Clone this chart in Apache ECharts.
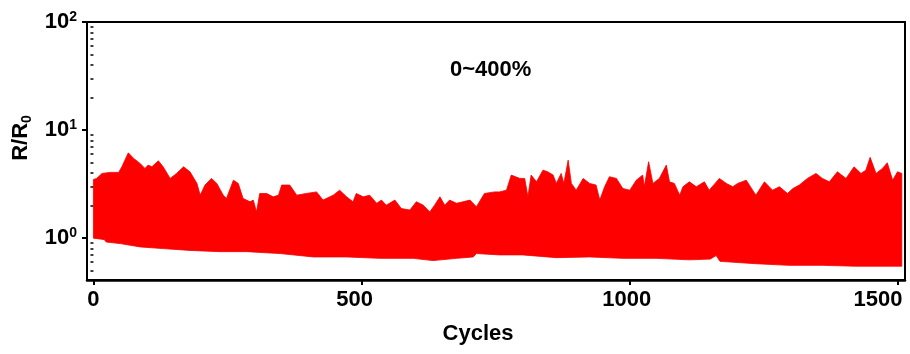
<!DOCTYPE html>
<html>
<head>
<meta charset="utf-8">
<script src="https://cdn.jsdelivr.net/npm/echarts@6/dist/echarts.min.js"></script>
<style>
  html, body { margin: 0; padding: 0; background: #fff; }
  #chart { width: 910px; height: 354px; }
</style>
</head>
<body>
<div id="chart"></div>
<script>
// Upper envelope of R/R0 (peak values)
const upperCycles = [0, 6, 16, 31, 47, 53, 65, 75, 87, 96, 102, 109, 121, 130, 143, 155, 168, 180, 193, 199,
  208, 220, 230, 242, 248, 261, 270, 279, 292, 298, 304, 310, 323, 335, 345, 351, 366, 379, 397, 416,
  428, 447, 459, 472, 484, 490, 503, 515, 528, 537, 546, 562, 574, 590, 602, 615, 627, 636, 646, 655,
  664, 677, 689, 702, 714, 729, 748, 757, 770, 779, 795, 804, 810, 816, 826, 838, 847, 857, 863, 872,
  877, 885, 891, 900, 913, 925, 937, 944, 953, 962, 975, 987, 1000, 1012, 1024, 1027, 1035, 1043, 1055, 1068,
  1074, 1083, 1093, 1099, 1111, 1124, 1139, 1148, 1167, 1180, 1192, 1201, 1217, 1229, 1235, 1251, 1266, 1279, 1294, 1304,
  1316, 1331, 1347, 1359, 1372, 1387, 1403, 1418, 1431, 1440, 1448, 1459, 1471, 1480, 1490, 1499, 1507];
const upperValues = [3.49, 3.57, 3.97, 4.06, 4.06, 4.57, 6.16, 5.47, 4.91, 4.42, 4.74, 4.57, 5.2, 4.57, 3.57, 3.97, 4.57, 4.11, 3.21, 2.50,
  3.10, 3.57, 3.21, 2.50, 2.33, 3.44, 3.21, 2.33, 2.17, 2.25, 1.75, 2.59, 2.59, 2.41, 2.50, 3.10, 3.10, 2.50, 2.59, 2.68,
  2.25, 2.50, 2.78, 2.41, 2.17, 2.59, 2.41, 2.50, 2.10, 2.25, 2.02, 2.25, 1.88, 1.82, 2.17, 2.02, 1.75, 2.02, 2.41, 2.02,
  2.25, 2.10, 2.17, 2.25, 1.95, 2.59, 2.68, 2.68, 2.78, 3.83, 3.57, 3.57, 2.41, 3.83, 3.32, 4.26, 4.11, 3.83, 3.21, 3.97,
  3.21, 5.27, 3.21, 2.78, 3.57, 3.21, 3.10, 2.25, 2.99, 3.70, 3.57, 2.88, 2.78, 3.44, 3.83, 2.99, 5.09, 3.21, 3.57, 4.74,
  3.32, 3.21, 2.50, 2.99, 3.32, 2.99, 3.32, 2.78, 3.57, 3.21, 2.99, 3.21, 3.44, 2.78, 2.50, 3.32, 2.78, 2.99, 2.59, 2.88,
  3.10, 3.57, 3.97, 3.57, 3.32, 4.11, 3.57, 4.57, 3.97, 4.26, 5.59, 3.97, 4.42, 4.98, 3.44, 4.11, 3.97];

// Lower envelope of R/R0 (valley values)
const lowerCycles = [0, 20, 24, 50, 87, 130, 180, 236, 286, 348, 410, 472, 534, 596, 633, 677, 708, 714, 757, 800,
  863, 925, 987, 1049, 1111, 1150, 1161, 1168, 1235, 1297, 1359, 1421, 1507];
const lowerValues = [1.0, 0.97, 0.92, 0.89, 0.83, 0.80, 0.77, 0.75, 0.75, 0.72, 0.67, 0.67, 0.65, 0.65, 0.62, 0.65, 0.67, 0.72, 0.70, 0.70,
  0.66, 0.67, 0.65, 0.65, 0.63, 0.64, 0.69, 0.61, 0.58, 0.56, 0.56, 0.55, 0.55];

// Axis ticks
const xTicks = [0, 500, 1000, 1500];
const yTicks = [1, 10, 100];
const yMinorTicks = [0.5, 0.6, 0.7, 0.8, 0.9, 2, 3, 4, 5, 6, 7, 8, 9, 20, 30, 40, 50, 60, 70, 80, 90];
const yRange = [0.41, 100];
const xRange = [-12, 1513];
const seriesLabel = '0~400%';

const FONT = 'Arial, "Liberation Sans", sans-serif';
const lg = v => Math.log10(v);

// label nudges (styling only): shift label left by given px
const xLabelShift = { 0: 0, 500: 7, 1000: 3, 1500: 20 };
const xRich = {};
xTicks.forEach(t => {
  xRich['t' + t] = { fontSize: 22, fontWeight: 'bold', color: '#000', fontFamily: FONT, padding: [0, 2 * (xLabelShift[t] || 0), 0, 0] };
});

const chart = echarts.init(document.getElementById('chart'), null, { renderer: 'canvas' });

const option = {
  animation: false,
  backgroundColor: '#fff',
  grid: { left: 87, right: 5, top: 22, bottom: 74, containLabel: false, outerBoundsMode: 'none',
    show: true, borderColor: '#000', borderWidth: 2, backgroundColor: 'transparent' },
  xAxis: {
    type: 'value', min: xRange[0], max: xRange[1],
    axisLine: { show: true, onZero: false, lineStyle: { color: '#000', width: 2.5 } },
    axisTick: { show: true, customValues: xTicks, length: 5, inside: false, lineStyle: { color: '#000', width: 2 } },
    axisLabel: { customValues: xTicks, formatter: v => '{t' + Math.round(v) + '|' + Math.round(v) + '}', rich: xRich,
      fontSize: 22, fontWeight: 'bold', color: '#000', fontFamily: FONT, margin: 9 },
    splitLine: { show: false },
    name: 'Cycles', nameLocation: 'middle', nameGap: 43,
    nameTextStyle: { fontSize: 22, fontWeight: 'bold', color: '#000', fontFamily: FONT, padding: [0, 36, 0, 0] }
  },
  yAxis: [
    {
      type: 'value', min: lg(yRange[0]), max: lg(yRange[1]),
      axisLine: { show: true, onZero: false, lineStyle: { color: '#000', width: 2 } },
      axisTick: { show: true, customValues: yTicks.map(lg), length: 5, lineStyle: { color: '#000', width: 2 } },
      axisLabel: {
        customValues: yTicks.map(lg), margin: 10,
        formatter: v => '{b|10}{s|' + Math.round(v) + '}',
        rich: {
          b: { fontSize: 22, fontWeight: 'bold', color: '#000', fontFamily: FONT, lineHeight: 24 },
          s: { fontSize: 14, fontWeight: 'bold', color: '#000', fontFamily: FONT, lineHeight: 14, verticalAlign: 'top' }
        }
      },
      splitLine: { show: false },
      name: '{a|R/R}{b|0}', nameLocation: 'middle', nameGap: 50, nameRotate: 90,
      nameTextStyle: {
        padding: [0, 0, 0, 26],
        rich: {
          a: { fontSize: 22, fontWeight: 'bold', color: '#000', fontFamily: FONT, lineHeight: 26 },
          b: { fontSize: 14, fontWeight: 'bold', color: '#000', fontFamily: FONT, lineHeight: 14, verticalAlign: 'bottom' }
        }
      }
    },
    {
      type: 'value', min: lg(yRange[0]), max: lg(yRange[1]), position: 'left',
      axisLine: { show: false },
      axisTick: { show: true, customValues: yMinorTicks.map(lg), length: 3, lineStyle: { color: '#000', width: 1.5 } },
      axisLabel: { show: false },
      splitLine: { show: false }
    }
  ],
  graphic: [{
    type: 'text', left: 492 - 42, top: 59,
    style: { text: seriesLabel, font: 'bold 22px ' + FONT, fill: '#000' }
  }],
  series: [{
    type: 'custom',
    xAxisIndex: 0, yAxisIndex: 0,
    clip: true,
    data: [0],
    renderItem: function (params, api) {
      if (params.dataIndex !== 0) return;
      const pts = [];
      for (let i = 0; i < upperCycles.length; i++) pts.push(api.coord([upperCycles[i], lg(upperValues[i])]));
      for (let i = lowerCycles.length - 1; i >= 0; i--) pts.push(api.coord([lowerCycles[i], lg(lowerValues[i])]));
      return { type: 'polygon', shape: { points: pts }, style: { fill: '#ff0000', stroke: '#f20000', lineWidth: 0.8 } };
    }
  }]
};
chart.setOption(option);
</script>
</body>
</html>
